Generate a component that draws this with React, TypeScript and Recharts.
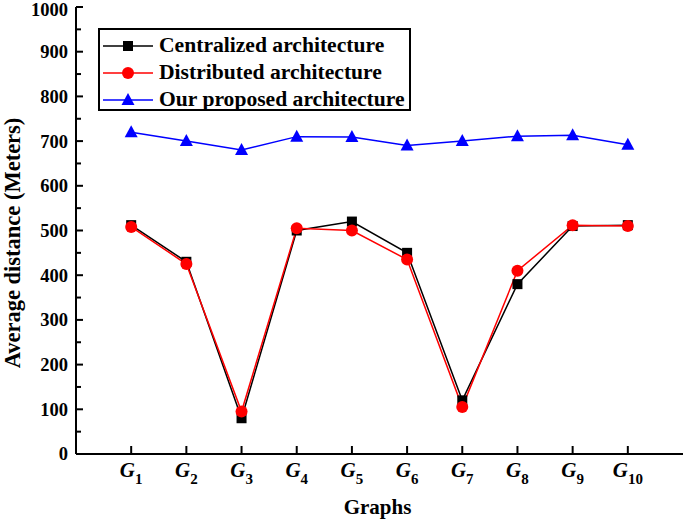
import React from 'react';
import { LineChart, Line, XAxis, YAxis, Legend } from 'recharts';

const categories = ['1', '2', '3', '4', '5', '6', '7', '8', '9', '10'];
const centralized = [512, 430, 80, 500, 520, 450, 120, 380, 510, 512];
const distributed = [508, 425, 95, 505, 500, 435, 105, 410, 512, 510];
const proposed = [720, 700, 680, 710, 709, 690, 700, 711, 713, 692];
const yTicks = [0, 50, 100, 150, 200, 250, 300, 350, 400, 450, 500, 550, 600, 650, 700, 750, 800, 850, 900, 950, 1000];
const xTicks = categories.map((_, i) => i + 1);
const seriesNames = ['Centralized architecture', 'Distributed architecture', 'Our proposed architecture'];

const data = categories.map((c, i) => ({
  x: i + 1,
  central: centralized[i],
  distrib: distributed[i],
  proposed: proposed[i],
}));

const FONT = '"Liberation Serif", "Times New Roman", serif';

const BottomTick = (props: any) => {
  const { x, y, payload } = props;
  const label = categories[payload.value - 1];
  return (
    <g>
      <line x1={x} x2={x} y1={y} y2={y - 8} stroke="#000" strokeWidth={2} />
      <text x={x} y={y + 23} textAnchor="middle" fontFamily={FONT} fontWeight="bold" fontSize={21} fill="#000">
        <tspan fontStyle="italic">G</tspan>
        <tspan dy={7} fontSize={15}>{label}</tspan>
      </text>
    </g>
  );
};

const TopTick = (props: any) => {
  const { x, y } = props;
  return <line x1={x} x2={x} y1={y} y2={y + 8} stroke="#000" strokeWidth={2} />;
};

const LeftTick = (props: any) => {
  const { x, y, payload } = props;
  const major = payload.value % 100 === 0;
  const ty = Math.max(y, 10);
  return (
    <g>
      <line x1={x} x2={x + (major ? 7 : 5)} y1={y} y2={y} stroke="#000" strokeWidth={2} />
      {major && (
        <text x={x - 8} y={ty} dy="0.35em" textAnchor="end" fontFamily={FONT} fontWeight="bold" fontSize={18.5} fill="#000">
          {payload.value}
        </text>
      )}
    </g>
  );
};

const RightTick = (props: any) => {
  const { x, y, payload } = props;
  const major = payload.value % 100 === 0;
  return <line x1={x} x2={x - (major ? 7 : 5)} y1={y} y2={y} stroke="#000" strokeWidth={2} />;
};

const SquareDot = (props: any) => {
  const { cx, cy, index } = props;
  if (cx == null || cy == null) return <g key={index} />;
  return <rect key={index} x={cx - 5} y={cy - 5} width={10} height={10} fill="#000" />;
};

const CircleDot = (props: any) => {
  const { cx, cy, index } = props;
  if (cx == null || cy == null) return <g key={index} />;
  return <circle key={index} cx={cx} cy={cy} r={6} fill="#ff0000" />;
};

const TriDot = (props: any) => {
  const { cx, cy, index } = props;
  if (cx == null || cy == null) return <g key={index} />;
  return <polygon key={index} points={`${cx},${cy - 7} ${cx - 6.5},${cy + 5} ${cx + 6.5},${cy + 5}`} fill="#0000ff" />;
};

const legendColors = ['#000000', '#ff0000', '#0000ff'];

const LegendIcon = ({ i }: { i: number }) => (
  <svg width={50} height={20} style={{ display: 'block', flex: 'none' }}>
    <line x1={0} x2={50} y1={10} y2={10} stroke={legendColors[i]} strokeWidth={1.5} />
    {i === 0 && <rect x={20} y={5} width={10} height={10} fill="#000" />}
    {i === 1 && <circle cx={25} cy={10} r={6} fill="#ff0000" />}
    {i === 2 && <polygon points="25,3 18.5,15 31.5,15" fill="#0000ff" />}
  </svg>
);

const LegendContent = () => (
  <div
    style={{
      boxSizing: 'border-box',
      width: 313,
      height: 83,
      border: '2px solid #000',
      background: '#fff',
      padding: '2px 0 0 3px',
      fontFamily: FONT,
      fontWeight: 'bold',
      fontSize: 21.6,
      color: '#000',
    }}
  >
    {seriesNames.map((n, i) => (
      <div key={n} style={{ display: 'flex', alignItems: 'center', height: 27 }}>
        <LegendIcon i={i} />
        <span style={{ marginLeft: 6, whiteSpace: 'nowrap', lineHeight: '27px' }}>{n}</span>
      </div>
    ))}
  </div>
);

export default function App() {
  return (
    <div style={{ position: 'absolute', left: 0, top: 0, width: 685, height: 521, background: '#fff' }}>
      <LineChart width={685} height={521} data={data} margin={{ top: 7, right: 2, bottom: 0, left: 0 }}>
        <XAxis
          dataKey="x"
          type="number"
          domain={[0, 11]}
          ticks={xTicks}
          interval={0}
          height={67}
          tickSize={0}
          tickMargin={0}
          tickLine={false}
          tick={BottomTick}
          axisLine={{ stroke: '#000', strokeWidth: 2 }}
          label={(p: any) => {
            const vb = p.viewBox;
            return (
              <text x={vb.x + vb.width / 2 - 2} y={514} textAnchor="middle" fontFamily={FONT} fontWeight="bold" fontSize={21} fill="#000">
                Graphs
              </text>
            );
          }}
        />
        <XAxis
          xAxisId="top"
          orientation="top"
          dataKey="x"
          type="number"
          domain={[0, 11]}
          ticks={xTicks}
          interval={0}
          height={0}
          tickSize={0}
          tickMargin={0}
          tickLine={false}
          tick={TopTick}
          axisLine={{ stroke: '#000', strokeWidth: 2 }}
        />
        <YAxis
          type="number"
          domain={[0, 1000]}
          ticks={yTicks}
          interval={0}
          width={76}
          tickSize={0}
          tickMargin={0}
          tickLine={false}
          tick={LeftTick}
          axisLine={{ stroke: '#000', strokeWidth: 2 }}
          label={() => (
            <text x={12} y={243} transform="rotate(-90 12 243)" textAnchor="middle" dominantBaseline="central" fontFamily={FONT} fontWeight="bold" fontSize={22.5} fill="#000">
              Average distance (Meters)
            </text>
          )}
        />
        <YAxis
          yAxisId="right"
          orientation="right"
          type="number"
          domain={[0, 1000]}
          ticks={yTicks}
          interval={0}
          width={0}
          tickSize={0}
          tickMargin={0}
          tickLine={false}
          tick={RightTick}
          axisLine={{ stroke: '#000', strokeWidth: 2 }}
        />
        <Legend
          layout="vertical"
          align="center"
          verticalAlign="middle"
          content={LegendContent}
          wrapperStyle={{ left: 98, top: 28, width: 313 }}
        />
        <Line dataKey="central" stroke="#000000" strokeWidth={1.5} dot={SquareDot} isAnimationActive={false} />
        <Line dataKey="distrib" stroke="#ff0000" strokeWidth={1.5} dot={CircleDot} isAnimationActive={false} />
        <Line dataKey="proposed" stroke="#0000ff" strokeWidth={1.5} dot={TriDot} isAnimationActive={false} />
      </LineChart>
    </div>
  );
}
